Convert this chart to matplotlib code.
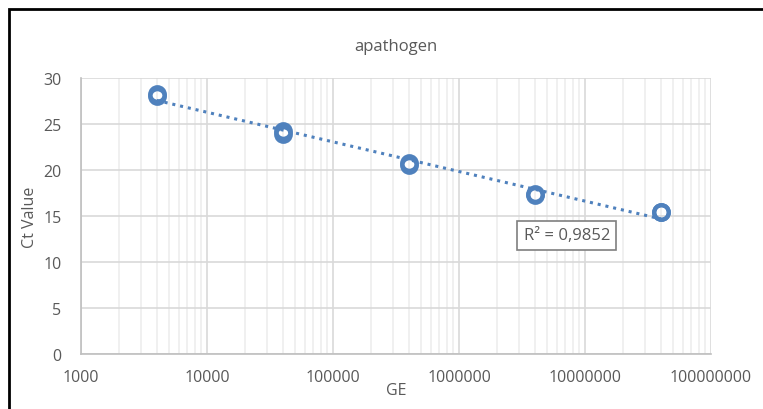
import numpy as np
import matplotlib
matplotlib.use("Agg")
import matplotlib.pyplot as plt
from matplotlib.ticker import LogLocator, FixedLocator, NullFormatter
from matplotlib.patches import Rectangle

plt.rcParams['font.family'] = ['Open Sans', 'DejaVu Sans']

ge = [4000, 4000, 40000, 40000, 400000, 400000, 4000000, 4000000, 40000000, 40000000]
ct = [28.3, 28.0, 24.2, 23.9, 20.8, 20.5, 17.4, 17.3, 15.4, 15.4]
x_ticks = [1000, 10000, 100000, 1000000, 10000000, 100000000]
x_labels = ['1000', '10000', '100000', '1000000', '10000000', '100000000']
y_ticks = [0, 5, 10, 15, 20, 25, 30]
r2_text = 'R² = 0,9852'

blue = '#4F81BD'
grey_txt = '#595959'

fig = plt.figure(figsize=(7.63, 4.10), dpi=100)
ax = fig.add_axes([81 / 763, 1 - 355 / 410, (711 - 81) / 763, (355 - 79) / 410])

ax.set_xscale('log')
ax.set_xlim(1000, 100000000)
ax.set_ylim(0, 30)

# log trendline, as Excel does it
lx = np.log(np.array(ge, dtype=float))
a, b = np.polyfit(lx, ct, 1)
xs = np.logspace(np.log10(min(ge)), np.log10(max(ge)), 100)
ax.plot(xs, a * np.log(xs) + b, linestyle=(0, (1, 1.6)), color=blue, lw=2.2, zorder=3)

ax.plot(ge, ct, 'o', markersize=10.5, markerfacecolor='none', markeredgecolor=blue,
        markeredgewidth=3, zorder=4)

ax.xaxis.set_major_locator(FixedLocator(x_ticks))
ax.set_xticklabels(x_labels)
ax.xaxis.set_minor_locator(LogLocator(base=10, subs=np.arange(2, 10)))
ax.xaxis.set_minor_formatter(NullFormatter())
ax.set_yticks(y_ticks)

ax.grid(which='major', color='#d9d9d9', lw=1.2)
ax.grid(which='minor', axis='x', color='#eeeeee', lw=1.2)
ax.set_axisbelow(True)

for s in ['top', 'right']:
    ax.spines[s].set_visible(False)
for s in ['left', 'bottom']:
    ax.spines[s].set_color('#bfbfbf')
    ax.spines[s].set_linewidth(1.2)

ax.tick_params(which='both', length=0, colors=grey_txt, labelsize=11.5)
ax.tick_params(axis='x', pad=11)
ax.tick_params(axis='y', pad=14)

ax.set_title('apathogen', fontsize=12, color=grey_txt, pad=20)
ax.set_xlabel('GE', fontsize=11.5, color=grey_txt, labelpad=-2)
ax.set_ylabel('Ct Value', fontsize=11.5, color=grey_txt, labelpad=4)

ax.text(0.771, 0.43, r2_text, transform=ax.transAxes, fontsize=12, color=grey_txt,
        ha='center', va='center',
        bbox=dict(boxstyle='square,pad=0.38', facecolor='white', edgecolor='#7f7f7f', lw=1.2))

fig.patches.append(Rectangle((9 / 763, -0.1), 1.2, 1 - 10 / 410 + 0.1, transform=fig.transFigure,
                             fill=False, edgecolor='black', lw=2, zorder=10))

fig.savefig('out.png', dpi=100)
